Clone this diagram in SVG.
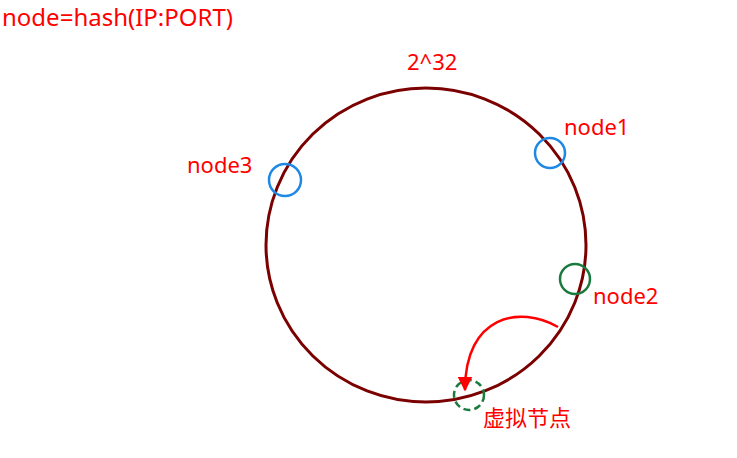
<svg xmlns="http://www.w3.org/2000/svg" width="737" height="458" viewBox="0 0 737 458">
<style>
text{font-family:"Noto Sans","Noto Sans CJK SC",sans-serif;fill:#ff0000;font-size:22px}
.n{fill:none;stroke-width:2.5}
</style>
<defs><marker id="ah" viewBox="0 0 10 10" refX="9" refY="5" markerWidth="6" markerHeight="6" orient="auto"><path d="M0,0L10,5L0,10z" fill="#ff0000"/></marker></defs>
<rect width="737" height="458" fill="#fff"/>
<text x="2" y="26" style="font-size:24px">node=hash(IP:PORT)</text>
<g id="ring"><ellipse cx="426" cy="245" rx="160" ry="157" fill="none" stroke="#7b0000" stroke-width="3"/><text x="407" y="70">2^32</text></g>
<g id="node1"><circle cx="550" cy="153" r="15" class="n" stroke="#1e88e5"/><text x="564" y="135">node1</text></g>
<g id="node3"><circle cx="285" cy="180" r="16" class="n" stroke="#1e88e5"/><text x="187" y="173">node3</text></g>
<g id="node2"><circle cx="575" cy="279" r="15" class="n" stroke="#1b7a3e"/><text x="593" y="304">node2</text></g>
<g id="virtual"><circle cx="469" cy="395" r="15" class="n" stroke="#1b7a3e" stroke-dasharray="7,4"/><text x="483" y="426">虚拟节点</text></g>
<g id="connectors"><path d="M558,327 C520,305 465,315 465,390" fill="none" stroke="#ff0000" stroke-width="2.5" marker-end="url(#ah)"/></g>
</svg>
